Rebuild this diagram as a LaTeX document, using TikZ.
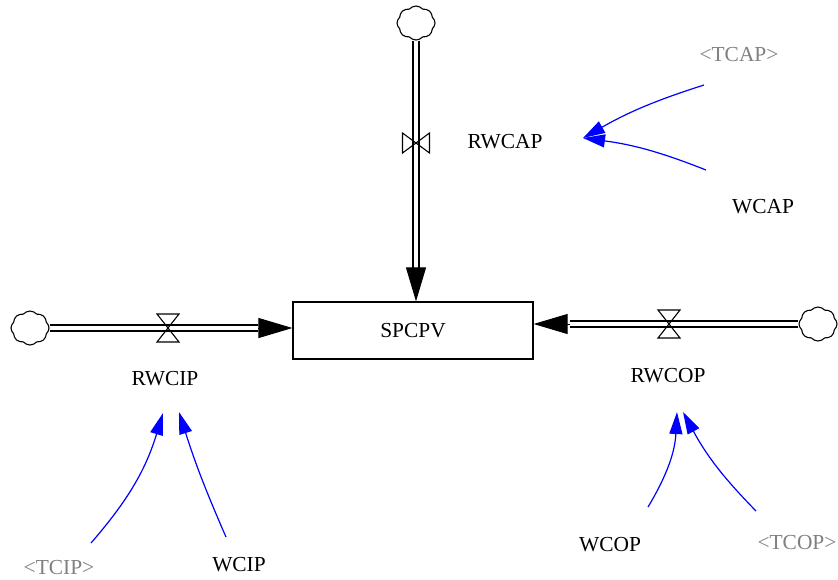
\documentclass[tikz,border=0pt]{standalone}
\usepackage{fontspec}
\setmainfont{Liberation Serif}
\usetikzlibrary{arrows.meta,shapes.symbols,positioning}

\begin{document}
\begin{tikzpicture}[x=0.5pt,y=-0.5pt,
  font=\fontsize{10.7}{12}\selectfont,
  stock/.style={draw,line width=0.6pt,minimum width=120pt,minimum height=28.5pt,inner sep=0pt},
  source/.style={cloud,cloud puffs=8,cloud puff arc=100,cloud ignores aspect,draw,line width=0.55pt,
    minimum width=19pt,minimum height=17pt,inner sep=0pt},
  pipe/.style={double,double distance=2.4pt,line width=0.6pt},
  pipehead/.style={line width=0.5pt,-{Triangle[length=17pt,width=10pt]}},
  link/.style={blue,line width=0.6pt,-{Triangle[length=11pt,width=6.5pt]}},
  shadow/.style={text=black!50},
  hvalve/.pic={\draw[line width=0.55pt] (-11,-14) -- (11,-14) -- (-11,14) -- (11,14) -- cycle;},
  vvalve/.pic={\draw[line width=0.55pt] (-13.5,-10) -- (-13.5,10) -- (13.5,-10) -- (13.5,10) -- cycle;}]
  \useasboundingbox (0,0) rectangle (838,579);

  \node[stock] (spcpv) at (413,330.5) {SPCPV};
  \node[source] (ctop) at (416,23) {};
  \node[source] (cleft) at (30,328) {};
  \node[source] (cright) at (818,324) {};

  \coordinate (top base) at (416,268);
  \coordinate (left base) at (258,328);
  \coordinate (right base) at (570,324);
  \draw[pipe] (ctop) -- (top base);
  \draw[pipe] (cleft) -- (left base);
  \draw[pipe] (cright) -- (right base);
  \draw[pipehead] (top base) -- (top base |- spcpv.north);
  \draw[pipehead] (left base) -- (left base -| spcpv.west);
  \draw[pipehead] (right base) -- (right base -| spcpv.east);
  \pic at (416,143) {vvalve};
  \pic at (168,328) {hvalve};
  \pic at (669,324) {hvalve};

  \node (rwcap) at (505,142) {RWCAP};
  \node (wcap) at (763,207) {WCAP};
  \node[shadow] (tcap) at (739,55) {<TCAP>};
  \node (rwcip) at (165,379) {RWCIP};
  \node[shadow] (tcip) at (59,568) {<TCIP>};
  \node (wcip) at (239,565) {WCIP};
  \node (rwcop) at (668,376) {RWCOP};
  \node (wcop) at (610,545) {WCOP};
  \node[shadow] (tcop) at (797,543) {<TCOP>};

  \coordinate (tcap tail) at (704,85);
  \coordinate (wcap tail) at (706,170);
  \coordinate (rwcap head) at (583,138);
  \coordinate (tcip tail) at (91,543);
  \coordinate (wcip tail) at (226,537);
  \coordinate (rwcip head a) at (163,413);
  \coordinate (rwcip head b) at (179,412);
  \coordinate (wcop tail) at (648,507);
  \coordinate (tcop tail) at (756,511);
  \coordinate (rwcop head a) at (677,412);
  \coordinate (rwcop head b) at (683,412);
  \draw[link] (tcap tail) to[bend right=6] (rwcap head);
  \draw[link] (wcap tail) to[bend right=7] (rwcap head);
  \draw[link] (tcip tail) to[bend right=12] (rwcip head a);
  \draw[link] (wcip tail) to[bend left=3] (rwcip head b);
  \draw[link] (wcop tail) to[bend right=14] (rwcop head a);
  \draw[link] (tcop tail) to[bend left=8] (rwcop head b);
\end{tikzpicture}
\end{document}
